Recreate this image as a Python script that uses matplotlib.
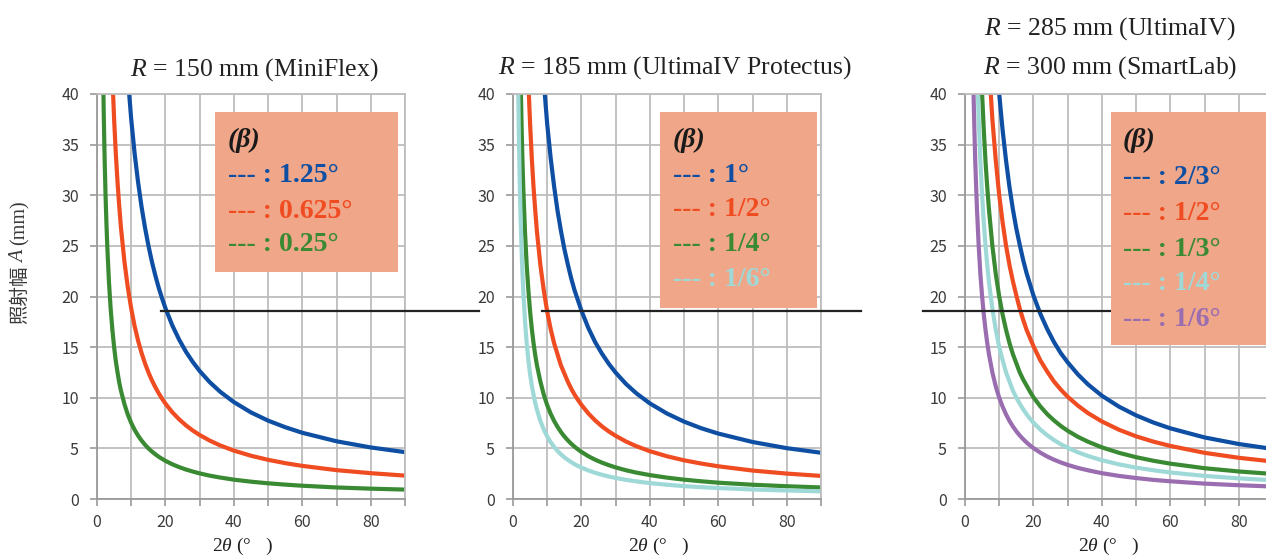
import numpy as np
import matplotlib
matplotlib.use("Agg")
import matplotlib.pyplot as plt
from matplotlib.patches import Rectangle

nan = np.nan

# ---------------- DATA ---------------- #
two_theta = [1, 1.25, 1.5, 1.75, 2, 2.25, 2.5, 2.75, 3, 3.5, 4, 4.5, 5, 5.5, 6, 6.5, 7,
             8, 9, 10, 11, 12, 13, 14, 15, 16, 17, 18, 19, 20,
             22, 24, 26, 28, 30, 33, 36, 40, 45, 50, 55, 60, 70, 80, 90]

# R = 150 mm (MiniFlex)
p1_b125 = [nan] * 17 + [46.9, 41.7, 37.5, 34.1, 31.3, 28.9, 26.85, 25.07, 23.5, 22.13, 20.9, 19.83, 18.84,
                        17.15, 15.74, 14.54, 13.53, 12.64, 11.52, 10.59, 9.57, 8.55, 7.74, 7.09, 6.54, 5.70, 5.09, 4.63]
p1_b0625 = [nan] * 9 + [53.6, 46.9, 41.7, 37.5, 34.1, 31.3, 28.9, 26.8,
                        23.5, 20.9, 18.8, 17.06, 15.65, 14.45, 13.42, 12.53, 11.75, 11.07, 10.46, 9.91, 9.42,
                        8.57, 7.87, 7.27, 6.76, 6.32, 5.76, 5.29, 4.78, 4.27, 3.87, 3.54, 3.27, 2.85, 2.55, 2.31]
p1_b025 = [nan] * 2 + [50.0, 42.9, 37.5, 33.3, 30.0, 27.3, 25.0, 21.4, 18.75, 16.7, 15.0, 13.6, 12.5, 11.5, 10.7,
                       9.39, 8.34, 7.51, 6.83, 6.26, 5.78, 5.37, 5.01, 4.70, 4.43, 4.18, 3.97, 3.77,
                       3.43, 3.15, 2.91, 2.71, 2.53, 2.30, 2.12, 1.91, 1.71, 1.55, 1.42, 1.31, 1.14, 1.02, 0.93]

# R = 185 mm (UltimaIV Protectus)
p2_b1 = [nan] * 17 + [46.3, 41.2, 37.0, 33.7, 30.9, 28.5, 26.5, 24.7, 23.2, 21.8, 20.6, 19.6, 18.6,
                      16.9, 15.5, 14.35, 13.35, 12.48, 11.37, 10.45, 9.44, 8.44, 7.64, 6.99, 6.46, 5.63, 5.02, 4.57]
p2_b12 = [nan] * 9 + [52.9, 46.2, 41.1, 37.0, 33.6, 30.8, 28.5, 26.4,
                      23.1, 20.6, 18.5, 16.8, 15.4, 14.3, 13.2, 12.4, 11.6, 10.9, 10.3, 9.78, 9.30,
                      8.46, 7.76, 7.17, 6.67, 6.24, 5.68, 5.22, 4.72, 4.22, 3.82, 3.50, 3.23, 2.81, 2.51, 2.28]
p2_b14 = [nan] * 2 + [61.6, 52.8, 46.2, 41.1, 37.0, 33.6, 30.8, 26.4, 23.1, 20.6, 18.5, 16.8, 15.4, 14.2, 13.2,
                      11.6, 10.3, 9.26, 8.42, 7.72, 7.13, 6.62, 6.18, 5.80, 5.46, 5.16, 4.89, 4.65,
                      4.23, 3.88, 3.59, 3.34, 3.12, 2.84, 2.61, 2.36, 2.11, 1.91, 1.75, 1.61, 1.41, 1.26, 1.14]
p2_b16 = [61.6, 49.3, 41.1, 35.2, 30.8, 27.4, 24.7, 22.4, 20.6, 17.6, 15.4, 13.7, 12.3, 11.2, 10.3, 9.49, 8.81,
          7.71, 6.86, 6.17, 5.61, 5.15, 4.75, 4.41, 4.12, 3.87, 3.64, 3.44, 3.26, 3.10,
          2.82, 2.59, 2.39, 2.22, 2.08, 1.89, 1.74, 1.57, 1.41, 1.27, 1.17, 1.08, 0.94, 0.84, 0.76]

# R = 300 mm (SmartLab)
p3_b23 = [nan] * 17 + [50.1, 44.5, 40.0, 36.4, 33.4, 30.8, 28.6, 26.7, 25.1, 23.6, 22.3, 21.2, 20.1,
                       18.3, 16.8, 15.5, 14.4, 13.5, 12.3, 11.3, 10.2, 9.12, 8.26, 7.56, 6.98, 6.08, 5.43, 4.94]
p3_b12 = [nan] * 12 + [60.0, 54.6, 50.0, 46.2, 42.9,
                       37.5, 33.4, 30.0, 27.3, 25.0, 23.1, 21.5, 20.1, 18.8, 17.7, 16.7, 15.9, 15.1,
                       13.7, 12.6, 11.6, 10.8, 10.1, 9.22, 8.47, 7.66, 6.84, 6.19, 5.67, 5.24, 4.56, 4.07, 3.70]
p3_b13 = [nan] * 8 + [66.7, 57.1, 50.0, 44.4, 40.0, 36.4, 33.3, 30.8, 28.6,
                      25.0, 22.2, 20.0, 18.2, 16.7, 15.4, 14.3, 13.4, 12.5, 11.8, 11.2, 10.6, 10.05,
                      9.15, 8.39, 7.76, 7.21, 6.74, 6.14, 5.65, 5.10, 4.56, 4.13, 3.78, 3.49, 3.04, 2.72, 2.47]
p3_b14 = [nan] * 5 + [66.7, 60.0, 54.5, 50.0, 42.9, 37.5, 33.3, 30.0, 27.3, 25.0, 23.1, 21.4,
                      18.8, 16.7, 15.0, 13.7, 12.5, 11.6, 10.7, 10.0, 9.41, 8.86, 8.37, 7.93, 7.54,
                      6.86, 6.30, 5.82, 5.41, 5.06, 4.61, 4.24, 3.83, 3.42, 3.10, 2.84, 2.62, 2.28, 2.04, 1.85]
p3_b16 = [nan] * 2 + [66.7, 57.2, 50.0, 44.5, 40.0, 36.4, 33.3, 28.6, 25.0, 22.2, 20.0, 18.2, 16.7, 15.4, 14.3,
                      12.5, 11.1, 10.0, 9.11, 8.35, 7.71, 7.16, 6.69, 6.27, 5.91, 5.58, 5.29, 5.03,
                      4.58, 4.20, 3.88, 3.61, 3.37, 3.07, 2.83, 2.55, 2.28, 2.07, 1.89, 1.75, 1.52, 1.36, 1.23]

limit_A = 18.6  # black reference line

titles = ["$R$ = 150 mm (MiniFlex)", "$R$ = 185 mm (UltimaIV Protectus)", "$R$ = 300 mm (SmartLab)"]
title_extra = "$R$ = 285 mm (UltimaIV)"

labels_p1 = ["1.25°", "0.625°", "0.25°"]
labels_p2 = ["1°", "1/2°", "1/4°", "1/6°"]
labels_p3 = ["2/3°", "1/2°", "1/3°", "1/4°", "1/6°"]

# ---------------- STYLE ---------------- #
BLUE = "#0E4FA3"
RED = "#F04C22"
GREEN = "#3A8A34"
CYAN = "#9ED9D8"
PURPLE = "#9A6DB0"
BOX = "#F0A688"
GRID = "#BDBDBD"
TXT = "#3A3A3A"

plt.rcParams["mathtext.fontset"] = "custom"
plt.rcParams["mathtext.rm"] = "Liberation Serif"
plt.rcParams["mathtext.it"] = "Liberation Serif:italic"
plt.rcParams["mathtext.bf"] = "Liberation Serif:bold"

W, H = 1266, 556
fig = plt.figure(figsize=(W / 100, H / 100), dpi=100)


def fx(px):
    return px / W


def fy(py):
    return 1 - py / H


def make_axes(left_px):
    ax = fig.add_axes([fx(left_px), fy(499), 308 / W, 405 / H])
    ax.set_xlim(0, 90)
    ax.set_ylim(0, 40)
    ax.set_xticks(range(0, 91, 10))
    ax.set_xticklabels(["0", "", "20", "", "40", "", "60", "", "80", ""])
    ax.set_yticks(range(0, 41, 5))
    ax.grid(True, color=GRID, linewidth=1.3)
    ax.set_axisbelow(True)
    for s in ax.spines.values():
        s.set_color(GRID)
        s.set_linewidth(1.3)
    ax.spines["left"].set_color("#9A9A9A")
    ax.spines["bottom"].set_color("#9A9A9A")
    ax.tick_params(length=5, width=1.2, color="#9A9A9A", labelcolor=TXT, labelsize=11.5)
    for lab in ax.get_xticklabels() + ax.get_yticklabels():
        lab.set_fontfamily("Noto Sans CJK JP")
    ax.tick_params(axis="x", pad=6)
    ax.tick_params(axis="y", pad=8)
    return ax


lw = 3.0

# ---------------- PANEL 1 ---------------- #
ax1 = make_axes(97)
ax1.plot(two_theta, p1_b125, color=BLUE, lw=lw)
ax1.plot(two_theta, p1_b0625, color=RED, lw=lw)
ax1.plot(two_theta, p1_b025, color=GREEN, lw=lw)
ax1.plot([18.7, 111.7], [limit_A, limit_A], color="#222222", lw=1.6, clip_on=False, zorder=5)

# ---------------- PANEL 2 ---------------- #
ax2 = make_axes(513)
ax2.plot(two_theta, p2_b1, color=BLUE, lw=lw)
ax2.plot(two_theta, p2_b12, color=RED, lw=lw)
ax2.plot(two_theta, p2_b14, color=GREEN, lw=lw)
ax2.plot(two_theta, p2_b16, color=CYAN, lw=lw)
ax2.plot([8.5, 101.7], [limit_A, limit_A], color="#222222", lw=1.6, clip_on=False, zorder=5)

# ---------------- PANEL 3 ---------------- #
ax3 = make_axes(965)
ax3.plot(two_theta, p3_b23, color=BLUE, lw=lw)
ax3.plot(two_theta, p3_b12, color=RED, lw=lw)
ax3.plot(two_theta, p3_b13, color=GREEN, lw=lw)
ax3.plot(two_theta, p3_b14, color=CYAN, lw=lw)
ax3.plot(two_theta, p3_b16, color=PURPLE, lw=lw)
ax3.plot([-12.3, 60], [limit_A, limit_A], color="#222222", lw=1.6, clip_on=False, zorder=5)

# ---------------- TITLES ---------------- #
serif = "Liberation Serif"
tsize = 18.5
fig.text(fx(254), fy(70), titles[0], family=serif, fontsize=tsize, ha="center", va="center", color="#222222")
fig.text(fx(675), fy(68), titles[1], family=serif, fontsize=tsize, ha="center", va="center", color="#222222")
fig.text(fx(1110), fy(29), title_extra, family=serif, fontsize=tsize, ha="center", va="center", color="#222222")
fig.text(fx(1110), fy(68), titles[2], family=serif, fontsize=tsize, ha="center", va="center", color="#222222")

# ---------------- AXIS LABELS ---------------- #
for cx in (242, 658, 1108):
    fig.text(fx(cx), fy(546), r"$\mathit{2\theta}$ (°   )", family=serif, fontsize=14,
             ha="center", va="center", color="#222222")

fig.text(fx(20), fy(324), "照射幅", family="Noto Sans CJK JP", fontsize=14, rotation=90,
         rotation_mode="anchor", ha="left", va="center", color=TXT)
fig.text(fx(20), fy(263), "A", family=serif, style="italic", fontsize=14.5, rotation=90,
         rotation_mode="anchor", ha="left", va="center", color=TXT)
fig.text(fx(20), fy(245), "(mm)", family=serif, fontsize=14.5, rotation=90,
         rotation_mode="anchor", ha="left", va="center", color=TXT)


# ---------------- LEGEND BOXES ---------------- #
def legend_box(x0, y0, x1, y1, tx, ys, labels, colors):
    fig.add_artist(Rectangle((fx(x0), fy(y1)), (x1 - x0) / W, (y1 - y0) / H,
                             transform=fig.transFigure, facecolor=BOX, edgecolor="none", zorder=3))
    fig.text(fx(tx), fy(ys[0]), "(β)", family=serif, fontsize=20, weight="bold", style="italic",
             ha="left", va="center", color="#1A1A1A", zorder=4)
    for y, lab, c in zip(ys[1:], labels, colors):
        fig.text(fx(tx), fy(y), "--- : " + lab, family=serif, fontsize=20, weight="bold",
                 ha="left", va="center", color=c, zorder=4)


legend_box(215, 112, 398, 272, 228, [140, 176, 211, 245], labels_p1, [BLUE, RED, GREEN])
legend_box(660, 112, 817, 308, 673, [140, 175, 210, 245, 280], labels_p2, [BLUE, RED, GREEN, CYAN])
legend_box(1111, 112, 1266, 345, 1123, [140, 177, 213, 249, 284, 319], labels_p3,
           [BLUE, RED, GREEN, CYAN, PURPLE])

fig.savefig("out.png", dpi=100)
